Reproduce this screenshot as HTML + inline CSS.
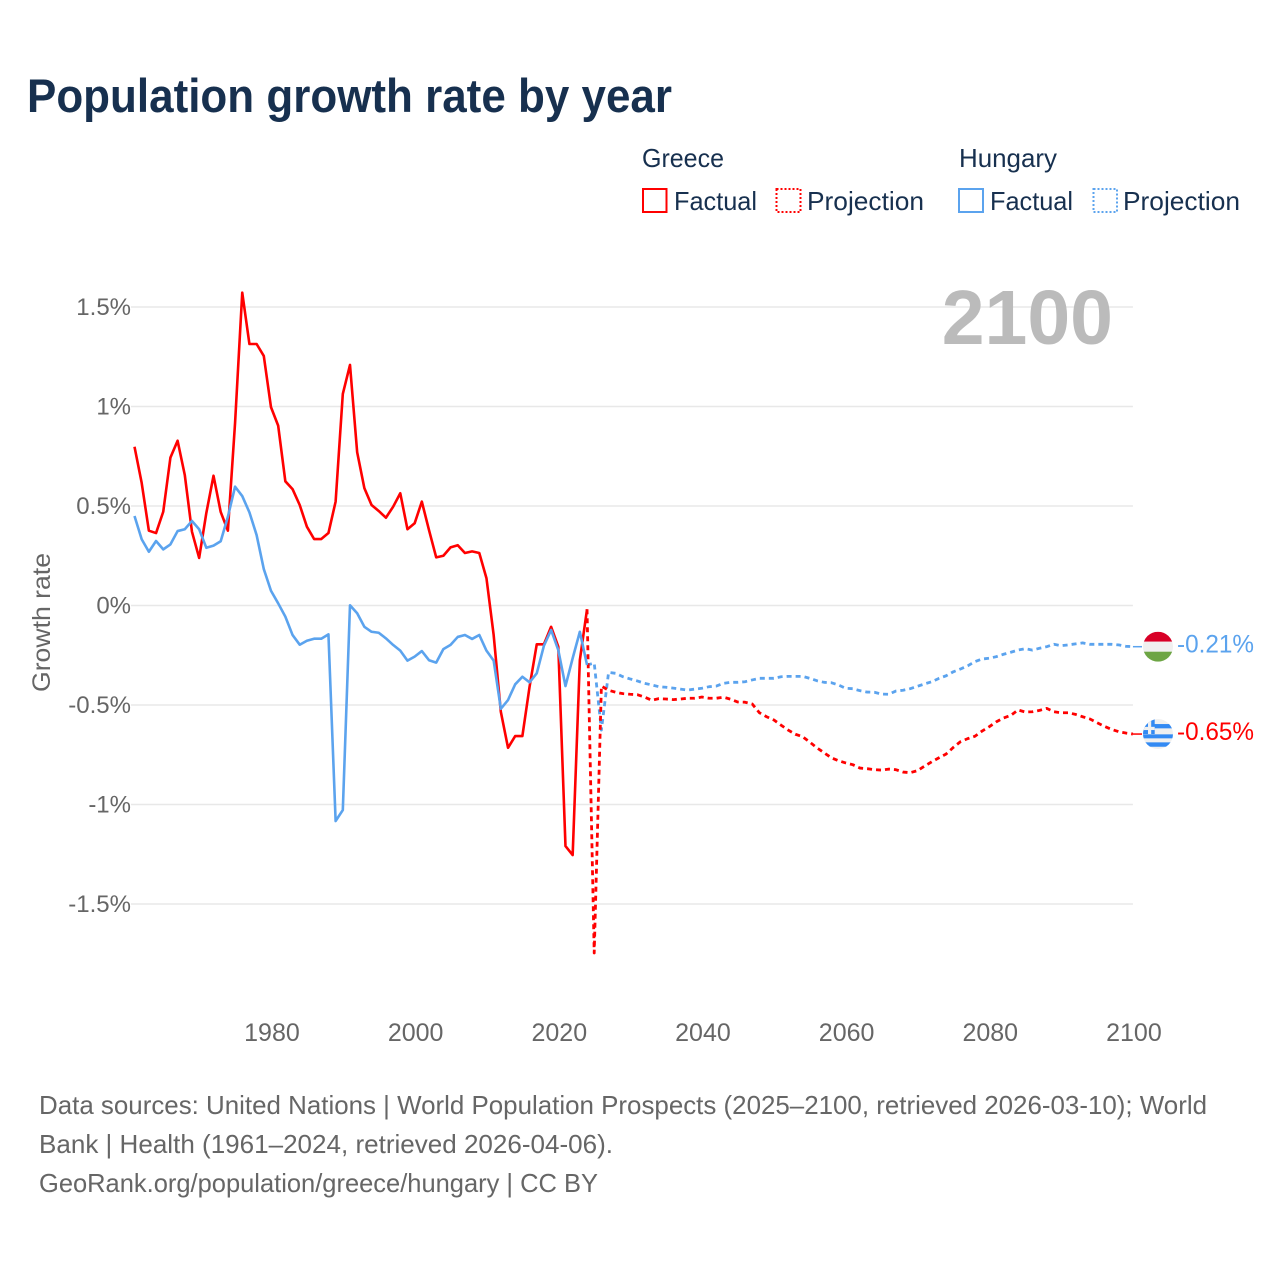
<!DOCTYPE html>
<html lang="en">
<head>
<meta charset="utf-8">
<title>Population growth rate by year</title>
<style>
html,body{margin:0;padding:0;background:#fff;}
svg{display:block;font-family:"Liberation Sans",sans-serif;}
</style>
</head>
<body>
<svg id="chart" xmlns="http://www.w3.org/2000/svg" width="1280" height="1280" viewBox="0 0 1280 1280">
  <defs>
    <clipPath id="flag-clip"><circle cx="0" cy="0" r="15"/></clipPath>
  </defs>
  <rect x="0" y="0" width="1280" height="1280" fill="#ffffff"/>
  <text x="27" y="112" font-size="47" font-weight="700" fill="#17304f" textLength="645" lengthAdjust="spacingAndGlyphs">Population growth rate by year</text>

  <g>
    <text x="642" y="167" font-size="26" fill="#17304f" textLength="82" lengthAdjust="spacingAndGlyphs">Greece</text>
    <rect x="643" y="189" width="23.5" height="23" fill="none" stroke="#ff0000" stroke-width="2"/>
    <text x="674" y="210" font-size="26" fill="#17304f" textLength="83" lengthAdjust="spacingAndGlyphs">Factual</text>
    <rect x="776.5" y="189" width="24" height="23" fill="none" stroke="#ff0000" stroke-width="2" stroke-dasharray="2 2"/>
    <text x="807" y="210" font-size="26" fill="#17304f" textLength="117" lengthAdjust="spacingAndGlyphs">Projection</text>
    <text x="959" y="167" font-size="26" fill="#17304f" textLength="98" lengthAdjust="spacingAndGlyphs">Hungary</text>
    <rect x="959" y="189" width="24" height="23" fill="none" stroke="#5ba3ee" stroke-width="2"/>
    <text x="990" y="210" font-size="26" fill="#17304f" textLength="83" lengthAdjust="spacingAndGlyphs">Factual</text>
    <rect x="1093.5" y="189" width="23.5" height="23" fill="none" stroke="#5ba3ee" stroke-width="2" stroke-dasharray="2 2"/>
    <text x="1123" y="210" font-size="26" fill="#17304f" textLength="117" lengthAdjust="spacingAndGlyphs">Projection</text>
  </g>

  <g id="grid"></g>
  <g id="ticks"></g>

  <text x="0" y="0" transform="translate(50,622.5) rotate(-90)" text-anchor="middle" font-size="25" fill="#666666" textLength="139" lengthAdjust="spacingAndGlyphs">Growth rate</text>

  <text x="1113" y="344" text-anchor="end" font-size="77" font-weight="700" fill="#bbbbbb">2100</text>

  <g id="series"></g>

  <g id="flag-hungary" clip-path="url(#flag-clip)">
    <rect x="-15" y="-15" width="30" height="10" fill="#d80027"/>
    <rect x="-15" y="-5" width="30" height="10" fill="#f0f0f0"/>
    <rect x="-15" y="5" width="30" height="10" fill="#6da544"/>
  </g>
  <g id="flag-greece" clip-path="url(#flag-clip)">
    <rect x="-15" y="-15" width="30" height="30" fill="#f0f0f0"/>
    <rect x="-15" y="-10" width="30" height="4.3" fill="#338af3"/>
    <rect x="-15" y="0.3" width="30" height="4" fill="#338af3"/>
    <rect x="-15" y="8.3" width="30" height="4.4" fill="#338af3"/>
    <rect x="-15" y="-15" width="11.7" height="15" fill="#338af3"/>
    <rect x="-15" y="-7.2" width="11.7" height="3.2" fill="#f0f0f0"/>
    <rect x="-10" y="-15" width="3.2" height="15" fill="#f0f0f0"/>
  </g>
  <g id="end-labels"></g>

  <g>
    <text x="39" y="1114" font-size="26" fill="#666666" textLength="1168" lengthAdjust="spacingAndGlyphs">Data sources: United Nations | World Population Prospects (2025–2100, retrieved 2026-03-10); World</text>
    <text x="39" y="1153" font-size="26" fill="#666666" textLength="574" lengthAdjust="spacingAndGlyphs">Bank | Health (1961–2024, retrieved 2026-04-06).</text>
    <text x="39" y="1192" font-size="26" fill="#666666" textLength="559" lengthAdjust="spacingAndGlyphs">GeoRank.org/population/greece/hungary | CC BY</text>
  </g>
</svg>
<script>
const factualStartYear = 1961;
const projectionStartYear = 2024;
const yTicks = [1.5, 1, 0.5, 0, -0.5, -1, -1.5];
const yTickLabels = ["1.5%", "1%", "0.5%", "0%", "-0.5%", "-1%", "-1.5%"];
const xTicks = [1980, 2000, 2020, 2040, 2060, 2080, 2100];

const greeceFactual = [
  0.798,0.616,0.376,0.364,0.471,0.743,0.828,0.656,0.371,0.239,
  0.465,0.652,0.470,0.376,0.917,1.572,1.314,1.314,1.254,0.997,
  0.904,0.624,0.585,0.505,0.396,0.334,0.334,0.364,0.522,1.063,
  1.209,0.770,0.590,0.505,0.475,0.441,0.496,0.564,0.383,0.413,
  0.522,0.379,0.242,0.250,0.292,0.303,0.264,0.272,0.264,0.137,
  -0.148,-0.534,-0.715,-0.656,-0.656,-0.408,-0.195,-0.195,-0.107,-0.207,
  -1.209,-1.254,-0.274,-0.019
];
const hungaryFactual = [
  0.450,0.333,0.270,0.324,0.282,0.307,0.374,0.383,0.425,0.383,
  0.290,0.301,0.323,0.446,0.597,0.550,0.468,0.354,0.183,0.074,
  0.011,-0.056,-0.148,-0.197,-0.177,-0.167,-0.167,-0.145,-1.083,-1.028,
  0.001,-0.039,-0.107,-0.132,-0.137,-0.165,-0.198,-0.227,-0.277,-0.257,
  -0.229,-0.275,-0.287,-0.219,-0.198,-0.158,-0.148,-0.168,-0.148,-0.227,
  -0.277,-0.519,-0.475,-0.396,-0.358,-0.386,-0.341,-0.202,-0.123,-0.224,
  -0.405,-0.265,-0.132,-0.299
];
const greeceProjection = [
  -0.019,-1.746,-0.405,-0.426,-0.436,-0.443,-0.446,-0.448,-0.460,-0.476,
  -0.468,-0.470,-0.473,-0.470,-0.466,-0.466,-0.460,-0.466,-0.466,-0.461,
  -0.471,-0.485,-0.486,-0.495,-0.539,-0.559,-0.575,-0.601,-0.626,-0.647,
  -0.659,-0.686,-0.715,-0.740,-0.765,-0.780,-0.791,-0.800,-0.817,-0.820,
  -0.825,-0.827,-0.822,-0.825,-0.837,-0.840,-0.830,-0.807,-0.785,-0.765,
  -0.746,-0.713,-0.684,-0.669,-0.657,-0.631,-0.609,-0.584,-0.565,-0.552,
  -0.525,-0.535,-0.534,-0.527,-0.517,-0.534,-0.539,-0.539,-0.547,-0.559,
  -0.570,-0.589,-0.607,-0.622,-0.634,-0.641,-0.646
];
const hungaryProjection = [
  -0.299,-0.289,-0.626,-0.336,-0.341,-0.358,-0.369,-0.379,-0.391,-0.399,
  -0.408,-0.411,-0.415,-0.420,-0.425,-0.420,-0.416,-0.408,-0.405,-0.391,
  -0.386,-0.386,-0.383,-0.374,-0.366,-0.366,-0.366,-0.358,-0.356,-0.356,
  -0.356,-0.366,-0.378,-0.386,-0.388,-0.399,-0.416,-0.418,-0.428,-0.435,
  -0.436,-0.445,-0.446,-0.430,-0.426,-0.418,-0.406,-0.394,-0.383,-0.366,
  -0.353,-0.333,-0.319,-0.303,-0.282,-0.269,-0.265,-0.257,-0.245,-0.235,
  -0.224,-0.217,-0.224,-0.215,-0.207,-0.195,-0.202,-0.198,-0.193,-0.188,
  -0.195,-0.195,-0.195,-0.195,-0.198,-0.205,-0.207
];

const SVG_NS = "http://www.w3.org/2000/svg";
const RED = "#ff0000";
const BLUE = "#5ba3ee";
const xScale = function (year) { return 134.5 + (year - 1961) * 7.183; };
const yScale = function (value) { return 605.5 - value * 199; };

function make(tag, attrs, parent, text) {
  const el = document.createElementNS(SVG_NS, tag);
  Object.keys(attrs).forEach(function (k) { el.setAttribute(k, attrs[k]); });
  if (text !== undefined) { el.textContent = text; }
  parent.appendChild(el);
  return el;
}

const gridLayer = document.getElementById("grid");
const tickLayer = document.getElementById("ticks");
const seriesLayer = document.getElementById("series");
const labelLayer = document.getElementById("end-labels");

yTicks.forEach(function (t, i) {
  const line = make("line", { x1: 131, x2: xScale(2100), y1: yScale(t), y2: yScale(t), stroke: "#e8e8e8", "stroke-width": 1.5 }, gridLayer);
  
  
  const label = make("text", { x: 131, y: yScale(t) + 8, "text-anchor": "end", "font-size": 24, fill: "#666666" }, tickLayer, yTickLabels[i]);
  
  
});

xTicks.forEach(function (year) {
  const label = make("text", { x: xScale(year) + 1, y: 1041, "text-anchor": "middle", "font-size": 25, fill: "#666666" }, tickLayer, String(year));
  
  
});

function pathFor(values, startYear) {
  return values.map(function (v, i) {
    return (i === 0 ? "M" : "L") + xScale(startYear + i).toFixed(2) + " " + yScale(v).toFixed(2);
  }).join(" ");
}

function drawSeries(values, startYear, color, dashed) {
  const attrs = { d: pathFor(values, startYear), fill: "none", stroke: color, "stroke-width": dashed ? 2.8 : 2.6, "stroke-linejoin": "round" };
  if (dashed) { attrs["stroke-dasharray"] = "5 4"; }
  return make("path", attrs, seriesLayer);
}

const hungaryProjectionLine = drawSeries(hungaryProjection, projectionStartYear, BLUE, true);


const greeceProjectionLine = drawSeries(greeceProjection, projectionStartYear, RED, true);


const greeceFactualLine = drawSeries(greeceFactual, factualStartYear, RED, false);


const hungaryFactualLine = drawSeries(hungaryFactual, factualStartYear, BLUE, false);



function drawEnd(values, color, flagId) {
  const last = values[values.length - 1];
  const y = yScale(last);
  document.getElementById(flagId).setAttribute("transform", "translate(1158 " + y.toFixed(2) + ")");
  const connector = make("line", { x1: xScale(2100), x2: 1142, y1: y, y2: y, stroke: color, "stroke-width": 1.5 }, seriesLayer);
  
  
  const label = make("text", { x: 1177, y: y + 6, "font-size": 25, fill: color, textLength: 77, lengthAdjust: "spacingAndGlyphs" }, labelLayer, last.toFixed(2) + "%");
  
  
}
drawEnd(hungaryProjection, BLUE, "flag-hungary");
drawEnd(greeceProjection, RED, "flag-greece");
</script>
</body>
</html>
